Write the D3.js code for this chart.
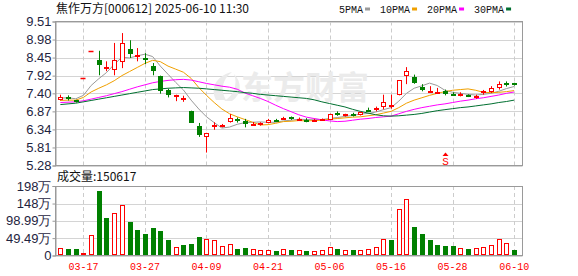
<!DOCTYPE html>
<html><head><meta charset="utf-8">
<script src="https://cdn.jsdelivr.net/npm/d3@7"></script>
<style>body{margin:0;background:#fff}svg{display:block}</style>
</head><body>
<svg id="c" width="578" height="276"></svg>
<script>
const dates = ["03-12","03-13","03-14","03-17","03-18","03-19","03-20","03-21","03-24","03-25","03-26","03-27","03-28","03-31",
"04-01","04-02","04-03","04-07","04-08","04-09","04-10","04-11","04-14","04-15","04-16","04-17","04-18","04-21","04-22","04-23","04-24","04-25","04-28","04-29","04-30",
"05-06","05-07","05-08","05-09","05-12","05-13","05-14","05-15","05-16","05-19","05-20","05-21","05-22","05-23","05-26","05-27","05-28","05-29","05-30",
"06-03","06-04","06-05","06-06","06-09","06-10"];
const open  = [7.21,7.29,7.19,7.85,8.64,8.38,8.15,8.10,8.31,8.71,8.46,8.44,8.21,7.90,7.49,7.34,7.25,6.87,6.43,6.11,
6.40,6.46,6.55,6.64,6.59,6.48,6.47,6.54,6.62,6.65,6.69,6.64,6.63,6.61,6.62,6.63,6.82,6.76,6.79,6.77,
6.92,6.90,6.99,7.05,7.36,7.90,7.87,7.59,7.45,7.42,7.48,7.38,7.35,7.36,7.28,7.40,7.44,7.56,7.70,7.69];
const high  = [7.36,7.34,7.21,7.85,8.64,8.65,8.34,8.88,9.17,8.96,8.73,8.58,8.29,7.92,7.53,7.36,7.33,6.89,6.53,6.24,
6.55,6.50,6.79,6.69,6.65,6.56,6.55,6.65,6.65,6.71,6.72,6.69,6.67,6.65,6.66,6.80,6.87,6.80,6.83,6.86,
6.98,7.01,7.36,7.36,7.78,8.17,7.95,7.67,7.61,7.56,7.51,7.43,7.43,7.37,7.36,7.50,7.61,7.75,7.75,7.71];
const low   = [7.19,7.19,7.13,7.85,8.64,7.93,8.05,7.93,8.14,8.44,8.34,8.26,7.93,7.39,7.28,7.17,7.15,6.54,6.12,5.66,
6.33,6.40,6.54,6.54,6.40,6.45,6.45,6.52,6.56,6.62,6.62,6.60,6.55,6.59,6.60,6.62,6.74,6.72,6.72,6.75,
6.85,6.87,6.93,6.95,7.34,7.67,7.68,7.46,7.45,7.40,7.34,7.32,7.31,7.29,7.24,7.36,7.41,7.51,7.60,7.63];
const close = [7.28,7.25,7.14,7.85,8.64,8.22,8.18,8.37,8.88,8.56,8.52,8.40,8.05,7.48,7.34,7.35,7.27,6.54,6.18,6.23,
6.47,6.48,6.67,6.60,6.50,6.51,6.53,6.63,6.60,6.67,6.64,6.65,6.61,6.63,6.64,6.79,6.77,6.79,6.76,6.85,
6.90,6.96,7.14,7.07,7.78,8.07,7.69,7.50,7.46,7.43,7.38,7.36,7.37,7.30,7.33,7.47,7.55,7.67,7.68,7.65];
const prevClose = 7.20;
const volume = [20.5,18.5,18.5,7,58,185,108,120,143,95,73,61,78,70,44,23,29,33,54,46,
44,26,33,18.5,21,17.5,15.7,15.7,12.8,19.5,15.7,14.8,12.8,12.8,15.7,23,18.5,15.7,15.7,15.7,
18.5,24,46,44,132,160,81,61,44,30,27,27,20.5,18.5,20.5,23,29,46,35.6,15.06];
const ma5  = [7.26,7.27,7.24,7.34,7.63,7.83,8.01,8.25,8.46,8.44,8.50,8.55,8.48,8.20,7.96,7.72,7.50,7.20,6.94,6.71,
6.54,6.38,6.41,6.49,6.54,6.55,6.56,6.55,6.55,6.59,6.61,6.64,6.63,6.64,6.63,6.66,6.69,6.72,6.75,6.79,
6.81,6.85,6.92,6.98,7.17,7.40,7.55,7.62,7.70,7.63,7.49,7.43,7.40,7.37,7.35,7.37,7.40,7.46,7.54,7.60];
const ma10 = [7.19,7.20,7.20,7.28,7.44,7.55,7.65,7.77,7.92,8.04,8.16,8.28,8.37,8.33,8.20,8.11,8.02,7.84,7.57,7.34,
7.13,6.94,6.80,6.71,6.63,6.55,6.47,6.48,6.52,6.57,6.58,6.60,6.59,6.60,6.61,6.64,6.66,6.68,6.70,6.71,
6.74,6.77,6.82,6.87,6.98,7.11,7.20,7.27,7.34,7.40,7.45,7.49,7.51,7.53,7.49,7.43,7.42,7.43,7.45,7.48];
const ma20 = [7.13,7.14,7.15,7.18,7.23,7.28,7.33,7.39,7.45,7.52,7.59,7.65,7.71,7.75,7.78,7.80,7.81,7.79,7.74,7.69,
7.65,7.61,7.58,7.52,7.41,7.33,7.25,7.16,7.05,6.95,6.86,6.77,6.70,6.66,6.62,6.59,6.57,6.58,6.61,6.64,
6.66,6.69,6.71,6.73,6.80,6.87,6.93,6.98,7.02,7.06,7.09,7.13,7.17,7.20,7.24,7.27,7.31,7.35,7.40,7.44];
const ma30 = [7.07,7.09,7.11,7.15,7.19,7.23,7.27,7.31,7.35,7.39,7.43,7.47,7.51,7.53,7.55,7.56,7.57,7.56,7.55,7.53,
7.51,7.49,7.47,7.45,7.42,7.40,7.37,7.35,7.33,7.31,7.29,7.27,7.25,7.21,7.15,7.10,7.05,7.00,6.93,6.87,
6.82,6.77,6.74,6.73,6.74,6.76,6.78,6.81,6.85,6.89,6.92,6.95,6.98,7.00,7.03,7.06,7.09,7.13,7.16,7.20];
const priceTicks = [9.51,8.98,8.45,7.92,7.40,6.87,6.34,5.81,5.28];
const volTicks = [0,49.49,98.99,148,198];
const volTickLabels = ["0","49.49万","98.99万","148万","198万"];
const dateTicks = ["03-17","03-27","04-09","04-21","05-06","05-16","05-28","06-10"];
const maNames = ["5PMA","10PMA","20PMA","30PMA"];
const signalDate = "05-27";
const title = "焦作万方[000612] 2025-06-10 11:30";
const volTitle = "成交量:150617";

const RED="#ff0000", GREEN="#008000";
const maColors=["#9a9a9a","#f0a000","#ff00ff","#006f30"];
const svg=d3.select("#c");
const L=55.5, R=522.5, PT=21.5, PB=165.5, VT=186, VB=255.5;

const x=d3.scaleBand().domain(dates).range([56.5,518]);
const cx=d=>x(d)+x.bandwidth()/2;
const yP=d3.scaleLinear().domain([5.28,9.51]).range([PB,PT]);
const yV=d3.scaleLinear().domain([0,197.97]).range([VB,VT]);

// grids
const g=svg.append("g");
g.selectAll(".hp").data(priceTicks).join("line").attr("x1",L).attr("x2",R)
 .attr("y1",d=>Math.round(yP(d))+0.5).attr("y2",d=>Math.round(yP(d))+0.5).attr("stroke","#d4d4d4");
g.selectAll(".hv").data(volTicks).join("line").attr("x1",L).attr("x2",R)
 .attr("y1",d=>Math.round(yV(d))+0.5).attr("y2",d=>Math.round(yV(d))+0.5).attr("stroke","#d4d4d4");
dateTicks.forEach(d=>{
  const xx=Math.round(cx(d))+0.5;
  g.append("line").attr("x1",xx).attr("x2",xx).attr("y1",PT).attr("y2",PB).attr("stroke","#cccccc").attr("stroke-dasharray","4,3");
  g.append("line").attr("x1",xx).attr("x2",xx).attr("y1",VT).attr("y2",VB).attr("stroke","#cccccc").attr("stroke-dasharray","4,3");
});

// watermark
const wm=svg.append("g").attr("fill","#ebebeb");
wm.append("path").attr("d","M216,100 C210,88 216,76 232,72 C222,80 220,90 226,100 Z");
wm.append("path").attr("d","M224,101 C234,96 238,84 234,74 C242,82 242,94 232,101 Z");
wm.append("text").attr("x",241).attr("y",99).attr("font-family","Noto Sans CJK SC").attr("font-weight","bold")
 .attr("font-size",32).text("东方财富");

// borders
svg.append("rect").attr("x",L).attr("y",PT).attr("width",R-L).attr("height",PB-PT).attr("fill","none").attr("stroke","#9a9a9a");
svg.append("rect").attr("x",L).attr("y",VT+0.5).attr("width",R-L).attr("height",VB-VT-0.5).attr("fill","none").attr("stroke","#9a9a9a");

// MA lines
[ma5,ma10,ma20,ma30].forEach((arr,k)=>{
  svg.append("path").datum(arr).attr("fill","none").attr("stroke",maColors[k]).attr("stroke-width",1)
   .attr("d",d3.line().x((d,i)=>cx(dates[i])).y(d=>yP(d)));
});

// candles
const cg=svg.append("g");
dates.forEach((d,i)=>{
  const o=open[i],c=close[i],h=high[i],l=low[i];
  const xc=Math.round(cx(d));
  const up = c>=o;
  const col = up?RED:GREEN;
  if(h===l){
    cg.append("line").attr("x1",xc-2.5).attr("x2",xc+2.5).attr("y1",Math.round(yP(c))+0.5).attr("y2",Math.round(yP(c))+0.5).attr("stroke",RED).attr("stroke-width",1.5);
    return;
  }
  cg.append("line").attr("x1",xc+0.5).attr("x2",xc+0.5).attr("y1",yP(h)).attr("y2",yP(l)).attr("stroke",col);
  const top=Math.round(yP(Math.max(o,c))), bot=Math.round(yP(Math.min(o,c)));
  if(c>o){
    cg.append("rect").attr("x",xc-1.5).attr("y",top+0.5).attr("width",4).attr("height",Math.max(1,bot-top-1)).attr("fill","#fff").attr("stroke",RED);
  } else if(c<o){
    cg.append("rect").attr("x",xc-2).attr("y",top).attr("width",5).attr("height",Math.max(2,bot-top)).attr("fill",GREEN);
  } else {
    cg.append("line").attr("x1",xc-2).attr("x2",xc+3).attr("y1",top+0.5).attr("y2",top+0.5).attr("stroke",col).attr("stroke-width",1.5);
  }
});

// volume bars
const vg=svg.append("g");
dates.forEach((d,i)=>{
  const pc = i===0?prevClose:close[i-1];
  const up = close[i]>=pc;
  const xc=Math.round(cx(d));
  const t=Math.round(yV(volume[i]));
  if(up){
    vg.append("rect").attr("x",xc-1.5).attr("y",t+0.5).attr("width",4).attr("height",Math.max(1,VB-t-1.5)).attr("fill","#fff").attr("stroke",RED);
  } else {
    vg.append("rect").attr("x",xc-2).attr("y",t).attr("width",5).attr("height",VB-0.5-t).attr("fill",GREEN);
  }
});

// axes
const ax1=svg.append("g").attr("transform",`translate(${L},0)`)
 .call(d3.axisLeft(yP).tickValues(priceTicks).tickFormat(d=>d.toFixed(2)).tickSize(3).tickPadding(1));
const ax2=svg.append("g").attr("transform",`translate(${L},0)`)
 .call(d3.axisLeft(yV).tickValues(volTicks).tickFormat((d,i)=>volTickLabels[i]).tickSize(3).tickPadding(1));
[ax1,ax2].forEach(a=>{
  a.select(".domain").attr("stroke","#9a9a9a");
  a.selectAll(".tick line").attr("stroke","#9a9a9a");
  a.selectAll("text").attr("font-family","Liberation Sans, Arial").attr("font-size",13).attr("fill","#1e2440");
});

// date labels
svg.selectAll(".dl").data(dateTicks).join("text").attr("x",d=>cx(d)).attr("y",270)
 .attr("text-anchor","middle").attr("font-family","Liberation Mono, monospace").attr("font-size",10)
 .attr("fill",RED).text(d=>d);

// signal marker
const sx=Math.round(cx(signalDate))+0.5;
svg.append("path").attr("d",`M${sx},152.5 L${sx+3},156 L${sx-3},156 Z`).attr("fill",RED);
svg.append("text").attr("x",sx).attr("y",164.5).attr("text-anchor","middle").attr("font-family","Liberation Mono, monospace")
 .attr("font-size",11).attr("fill",RED).text("S");

// title
svg.append("text").attr("x",56).attr("y",13).attr("font-family","Noto Sans CJK SC").attr("font-size",12).attr("fill","#111").text(title);
svg.append("text").attr("x",57).attr("y",181).attr("font-family","Noto Sans CJK SC").attr("font-size",12).attr("fill","#111").text(volTitle);

// legend
let lx=339;
maNames.forEach((n,k)=>{
  const t=svg.append("text").attr("x",lx).attr("y",12.5).attr("font-family","Liberation Mono, monospace").attr("font-size",10).attr("fill","#111").text(n);
  const w=t.node().getComputedTextLength();
  svg.append("rect").attr("x",lx+w+2).attr("y",7.5).attr("width",5).attr("height",3).attr("fill",maColors[k]);
  lx+=w+2+5+10;
});
</script>
</body></html>
